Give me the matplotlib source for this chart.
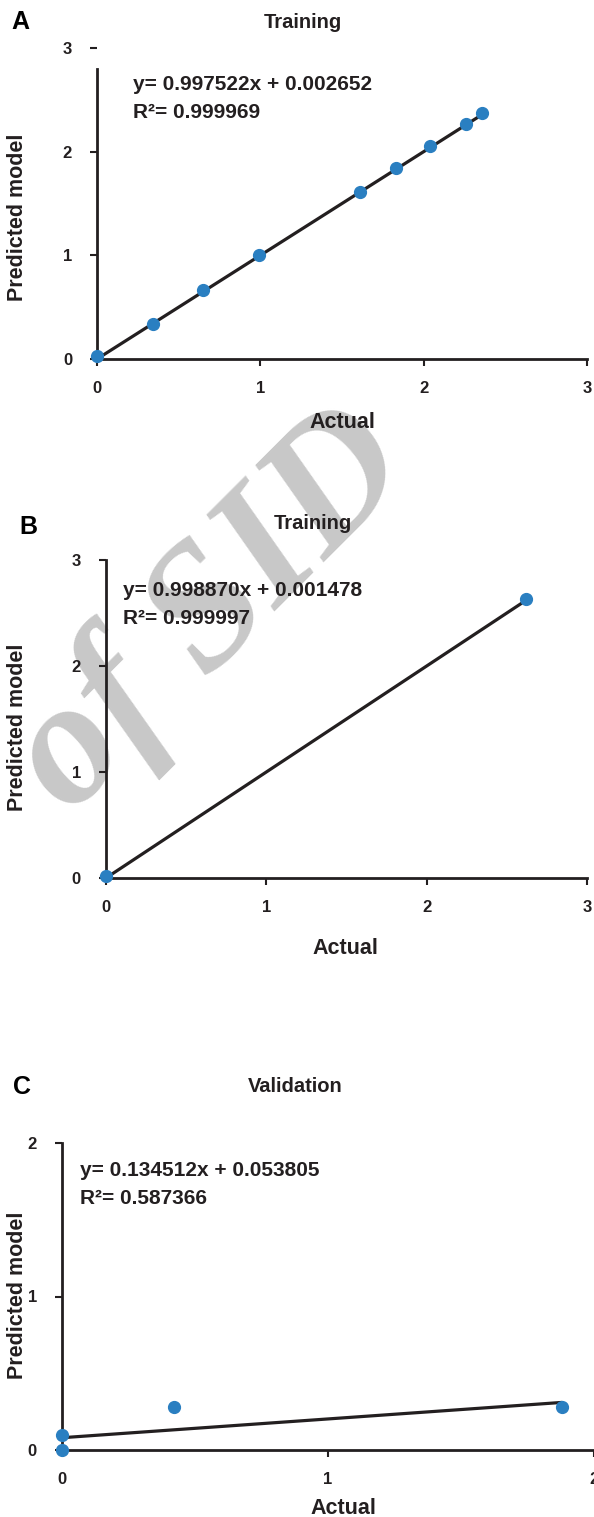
import numpy as np
import matplotlib
matplotlib.use("Agg")
import matplotlib.pyplot as plt

plt.rcParams['font.family'] = ['Liberation Sans', 'DejaVu Sans']
plt.rcParams['font.weight'] = 'bold'

# Panel A - training
a_actual = [0.0, 0.34, 0.65, 0.99, 1.61, 1.83, 2.04, 2.26, 2.36]
a_pred = [0.03, 0.34, 0.67, 1.0, 1.61, 1.84, 2.05, 2.27, 2.37]
a_line_x = [0.0, 2.37]
a_line_y = [0.0, 2.37]
a_eq = "y= 0.997522x + 0.002652"
a_r2 = "R\u00b2= 0.999969"

# Panel B - training
b_actual = [0.0, 2.62]
b_pred = [0.02, 2.63]
b_line_x = [0.0, 2.62]
b_line_y = [0.0, 2.62]
b_eq = "y= 0.998870x + 0.001478"
b_r2 = "R\u00b2= 0.999997"

# Panel C - validation
c_actual = [0.0, 0.0, 0.42, 1.88]
c_pred = [0.0, 0.1, 0.28, 0.28]
c_line_x = [0.0, 1.88]
c_line_y = [0.08, 0.31]
c_eq = "y= 0.134512x + 0.053805"
c_r2 = "R\u00b2= 0.587366"

W, H = 594, 1517
fig = plt.figure(figsize=(W / 100, H / 100), dpi=100)

dot = '#2a7fc1'
ink = '#231f20'


def px(x0, y0, x1, y1):
    # pixel box -> figure fraction rect
    return [x0 / W, 1 - y1 / H, (x1 - x0) / W, (y1 - y0) / H]


def panel(rect, xs, ys, lx, ly, eq, r2, xmax, ymax, ybound, title, letter,
          eqpos, titlepos, letterpos, xlabpos, ylabx):
    ax = fig.add_axes(rect)
    ax.patch.set_alpha(0)
    ax.plot(lx, ly, color=ink, lw=2.3, solid_capstyle='round', zorder=3)
    ax.plot(xs, ys, 'o', color=dot, ms=8.5, zorder=4, clip_on=False)
    ax.set_xlim(0, xmax)
    ax.set_ylim(0, ymax)
    ax.set_xticks(range(0, int(xmax) + 1))
    ax.set_yticks(range(0, int(ymax) + 1))
    for s in ['top', 'right']:
        ax.spines[s].set_visible(False)
    for s in ['left', 'bottom']:
        ax.spines[s].set_linewidth(2)
        ax.spines[s].set_color(ink)
    ax.spines['left'].set_bounds(0, ybound)
    ax.tick_params(width=1.5, length=5, color=ink, labelsize=12,
                   labelcolor=ink)
    ax.tick_params(axis='x', pad=11)
    ax.tick_params(axis='y', pad=13)
    fig.text(eqpos[0] / W, 1 - eqpos[1] / H, eq, fontsize=15,
             fontweight='bold', color=ink, va='center', ha='left')
    fig.text(eqpos[0] / W, 1 - (eqpos[1] + 28) / H, r2, fontsize=15,
             fontweight='bold', color=ink, va='center', ha='left')
    fig.text(titlepos[0] / W, 1 - titlepos[1] / H, title, fontsize=14.5,
             fontweight='bold', color=ink, va='center', ha='center')
    fig.text(letterpos[0] / W, 1 - letterpos[1] / H, letter, fontsize=18,
             fontweight='bold', color='black', va='center', ha='center')
    fig.text(xlabpos[0] / W, 1 - xlabpos[1] / H, "Actual", fontsize=15.5,
             fontweight='bold', color=ink, va='center', ha='center')
    fig.text(ylabx[0] / W, 1 - ylabx[1] / H, "Predicted model", fontsize=15.5,
             fontweight='bold', color=ink, va='center', ha='center',
             rotation=90)
    return ax


panel(px(97, 48, 587, 359), a_actual, a_pred, a_line_x, a_line_y, a_eq, a_r2,
      3, 3, 2.8, "Training", "A", (133, 85), (303, 22), (20, 22),
      (342, 423), (18, 217))
panel(px(106, 560, 587, 878), b_actual, b_pred, b_line_x, b_line_y, b_eq, b_r2,
      3, 3, 3, "Training", "B", (123, 591), (313, 523), (28, 527),
      (345, 948), (18, 727))
panel(px(62, 1143, 594, 1450), c_actual, c_pred, c_line_x, c_line_y, c_eq, c_r2,
      2, 2, 2, "Validation", "C", (80, 1170), (295, 1087), (22, 1087),
      (343, 1508), (18, 1295))

# watermark
fig.text(212 / W, 1 - 612 / H, "of SID", fontsize=128, color='#c8c8c8',
         family='Liberation Serif', style='italic',
         rotation=45, ha='center', va='center', zorder=-5)

fig.savefig('out.png', dpi=100)
